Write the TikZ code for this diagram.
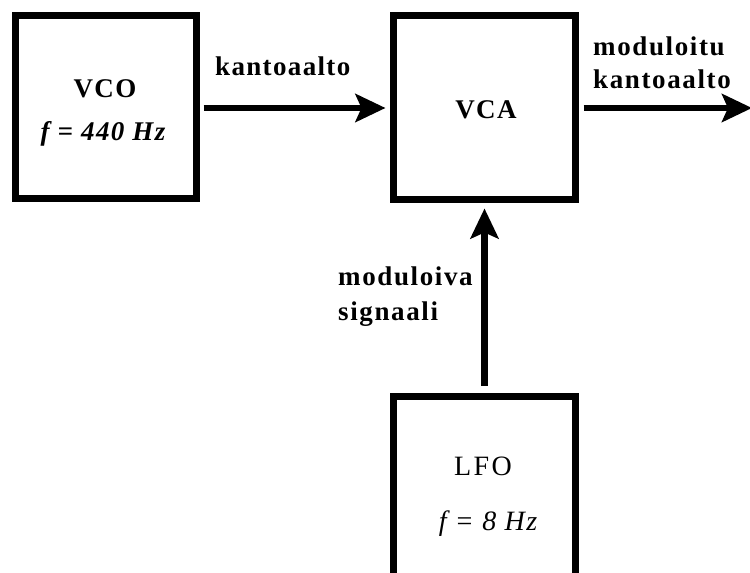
\documentclass[tikz,border=0pt]{standalone}
\usepackage{fontspec}
\setmainfont{Liberation Serif}[LetterSpace=5]
\usetikzlibrary{arrows.meta}
\begin{document}
\begin{tikzpicture}[x=1pt,y=-1pt,
  block/.style={draw=black, line width=7.5pt, inner sep=0pt, outer sep=0pt, fill=none},
  sig/.style={line width=6.5pt, -{Stealth[length=30pt,width=28pt,inset=6pt]}},
  lbl/.style={font=\fontsize{27}{33}\selectfont\bfseries, inner sep=0pt, align=left},
  title/.style={font=\fontsize{27}{30}\selectfont\bfseries, inner sep=0pt, anchor=base},
  freq/.style={font=\fontsize{27}{30}\selectfont\bfseries\itshape, inner sep=0pt, anchor=base}]
\useasboundingbox[fill=white] (0,0) rectangle (750,573);

% blocks
\node[block, minimum width=181pt, minimum height=183pt] (vco) at (106,107) {};
\node[block, minimum width=182pt, minimum height=184pt] (vca) at (484.5,107.5) {};
\node[block, minimum width=182pt, minimum height=203pt] (lfo) at (484.5,498) {};

% block texts
\node[title] (vcotitle) at (105,97) {VCO};
\node[freq] (vcofreq) at (103,140) {f = 440 Hz};
\node[title] (vcatitle) at (486,118) {VCA};
\node[title, font=\fontsize{28}{30}\selectfont\addfontfeature{LetterSpace=9}] (lfotitle) at (483,475) {LFO};
\node[freq, font=\fontsize{28}{30}\selectfont\itshape] (lfofreq) at (488,530) {f = 8 Hz};

% signal paths
\coordinate (out) at (752,108);
\draw[sig] ([xshift=7pt,yshift=-1pt]vco.east) -- ([xshift=-8pt,yshift=-0.5pt]vca.west);
\draw[sig] ([xshift=8pt,yshift=-0.5pt]vca.east) -- (out);
\draw[sig] ([yshift=11pt]lfo.north) -- ([yshift=-9pt]vca.south);

% signal labels
\node[lbl, anchor=base west] (carrier) at (215,75) {kantoaalto};
\node[lbl, anchor=north west, font=\fontsize{27}{33}\selectfont\bfseries\addfontfeature{LetterSpace=6}] (modcarrier) at (593,37) {moduloitu\\kantoaalto};
\node[lbl, anchor=north west, font=\fontsize{27}{35}\selectfont\bfseries\addfontfeature{LetterSpace=6}] (modsig) at (338,267) {moduloiva\\signaali};
\end{tikzpicture}
\end{document}
